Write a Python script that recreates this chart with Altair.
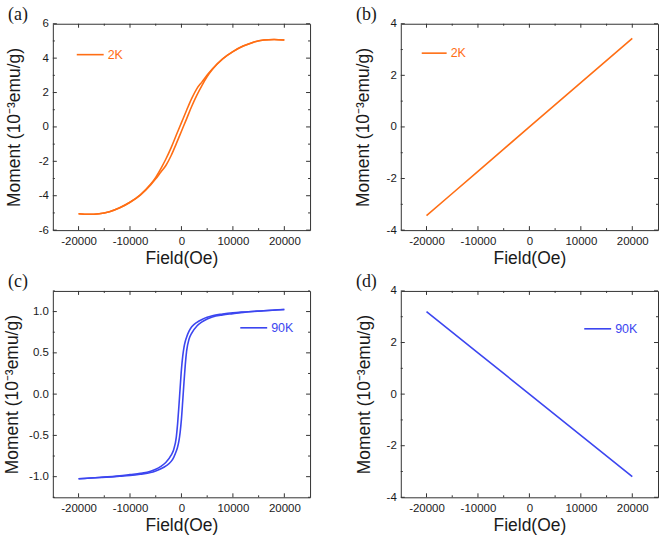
import altair as alt
import pandas as pd

ORANGE = "#FF6E14"
BLUE = "#3C46F0"
FRAME = "#333333"
TEXT = "#1a1a1a"
SANS = "Liberation Sans, Arial, sans-serif"
SERIF = "Liberation Serif, Times New Roman, serif"

panel_labels = ["(a)", "(b)", "(c)", "(d)"]
series_names = ["2K", "2K", "90K", "90K"]
x_title = "Field(Oe)"
y_title = "Moment (10\u207b\u00b3emu/g)"

x_major_ticks = [-20000, -10000, 0, 10000, 20000]
x_minor_ticks = [-15000, -5000, 5000, 15000]

# (a) 2K hysteresis loop
field_a = [-20000, -18000, -16000, -14000, -12000, -10000, -8000, -6000, -5000, -4000,
           -3000, -2000, -1000, 0, 1000, 2000, 3000, 4000, 5000, 6000, 8000, 10000,
           12000, 14000, 16000, 18000, 20000]
moment_a_down = [-5.05, -5.08, -5.05, -4.93, -4.70, -4.38, -3.95, -3.34, -2.93, -2.42,
                 -1.85, -1.20, -0.47, 0.25, 0.97, 1.66, 2.23, 2.62, 3.02, 3.37, 3.96, 4.38,
                 4.70, 4.93, 5.05, 5.08, 5.05]
moment_a_up = [-5.05, -5.08, -5.05, -4.93, -4.70, -4.38, -3.96, -3.37, -3.02, -2.62,
               -2.23, -1.66, -0.97, -0.25, 0.47, 1.20, 1.85, 2.42, 2.93, 3.34, 3.95, 4.38,
               4.70, 4.93, 5.05, 5.08, 5.05]

# (b) 2K straight line
field_b = [-20000, -10000, 0, 10000, 20000]
moment_b = [-3.44, -1.72, 0.0, 1.72, 3.43]

# (c) 90K hysteresis loop
field_c = [-20000, -16000, -12000, -10000, -8000, -6000, -5000, -4000, -3000, -2000,
           -1500, -1000, -750, -500, -250, 0, 250, 500, 750, 1000, 1500, 2000, 3000,
           4000, 5000, 6000, 8000, 10000, 12000, 16000, 20000]
moment_c_down = [-1.025, -1.01, -0.99, -0.975, -0.96, -0.935, -0.91, -0.875, -0.825, -0.74,
                 -0.67, -0.52, -0.36, -0.15, 0.08, 0.30, 0.46, 0.57, 0.64, 0.69, 0.765, 0.815,
                 0.87, 0.905, 0.93, 0.95, 0.97, 0.985, 0.995, 1.01, 1.025]
moment_c_up = [-1.025, -1.01, -0.995, -0.985, -0.97, -0.95, -0.93, -0.905, -0.87, -0.815,
               -0.765, -0.69, -0.64, -0.57, -0.46, -0.30, -0.08, 0.15, 0.36, 0.52, 0.67, 0.74,
               0.825, 0.875, 0.91, 0.935, 0.96, 0.975, 0.99, 1.01, 1.025]

# (d) 90K straight line
field_d = [-20000, -10000, 0, 10000, 20000]
moment_d = [3.2, 1.6, 0.0, -1.6, -3.2]

y_major_a = [-6, -4, -2, 0, 2, 4, 6]
y_minor_a = [-5, -3, -1, 1, 3, 5]
y_major_bd = [-4, -2, 0, 2, 4]
y_minor_bd = [-3, -1, 1, 3]
y_major_c = [-1.0, -0.5, 0.0, 0.5, 1.0]
y_minor_c = [-1.25, -0.75, -0.25, 0.25, 0.75, 1.25]

W, H = 258, 207
MAJOR, MINOR = 4, 2


def frame(fields, branches, series):
    rows = []
    for name, values in branches.items():
        for f, m in zip(fields, values):
            rows.append({"field": f, "moment": m, "branch": name, "series": series})
    return pd.DataFrame(rows)


def panel(df, label, series, color, y_domain, y_major, y_minor, y_fmt,
          legend_x, legend_y, legend_len, title_x):
    xs = alt.Scale(domain=[-25000, 25000], nice=False, zero=False)
    ys = alt.Scale(domain=y_domain, nice=False, zero=False)
    if y_fmt == "int":
        y_label = "'' + datum.value"
    else:
        y_label = "replace(format(datum.value, '.1f'), '\u2212', '-')"

    common = dict(domain=False, grid=False, ticks=False)
    x_bottom = alt.Axis(
        orient="bottom", values=x_major_ticks,
        labelExpr="'' + datum.value",
        labelPadding=5, labelFont=SANS, labelFontSize=11.5, labelColor=TEXT,
        labelFlush=False, labelOverlap=False,
        title=x_title, titleFont=SANS, titleFontSize=17.5, titleFontWeight="normal",
        titleColor=TEXT, titleY=28, titleBaseline="middle", **common)
    y_left = alt.Axis(
        orient="left", values=y_major,
        labelExpr=y_label,
        labelPadding=4.5, labelFont=SANS, labelFontSize=11.5, labelColor=TEXT,
        labelFlush=False, labelOverlap=False,
        title=y_title, titleFont=SANS, titleFontSize=17.5, titleFontWeight="normal",
        titleColor=TEXT, titleX=title_x, titleBaseline="middle", **common)

    line = alt.Chart(df).mark_line(strokeWidth=1.6, interpolate="monotone").encode(
        x=alt.X("field:Q", scale=xs, axis=x_bottom),
        y=alt.Y("moment:Q", scale=ys, axis=y_left),
        color=alt.Color("series:N", scale=alt.Scale(domain=[series], range=[color]),
                        legend=alt.Legend(orient="none", legendX=legend_x, legendY=legend_y,
                                          title=None, symbolType="stroke",
                                          symbolSize=legend_len ** 2, symbolStrokeWidth=1.6,
                                          labelColor=color, labelFont=SANS, labelFontSize=12.5,
                                          labelOffset=3, padding=0)),
        detail="branch:N",
    )

    # inward-pointing ticks on all four sides, placed through the panel's scales
    ticks = []
    for values, size in [(x_major_ticks, MAJOR), (x_minor_ticks, MINOR)]:
        tdf = pd.DataFrame({"t": values})
        for y0, y1 in [(H, H - size), (0, size)]:
            ticks.append(alt.Chart(tdf).mark_rule(color=FRAME, strokeWidth=1).encode(
                x=alt.X("t:Q", scale=xs, axis=None),
                y=alt.value(y0), y2=alt.value(y1)))
    for values, size in [(y_major, MAJOR), (y_minor, MINOR)]:
        tdf = pd.DataFrame({"t": values})
        for x0, x1 in [(0, size), (W, W - size)]:
            ticks.append(alt.Chart(tdf).mark_rule(color=FRAME, strokeWidth=1).encode(
                y=alt.Y("t:Q", scale=ys, axis=None),
                x=alt.value(x0), x2=alt.value(x1)))

    tag = alt.Chart(pd.DataFrame({"label": [label]})).mark_text(
        align="left", baseline="alphabetic", font=SERIF, fontSize=18, color=TEXT
    ).encode(x=alt.value(-45), y=alt.value(-4), text="label:N")
    return alt.layer(line, *ticks, tag).resolve_axis(
        x="independent", y="independent").properties(width=W, height=H)


df_a = frame(field_a, {"down": moment_a_down, "up": moment_a_up}, series_names[0])
df_b = frame(field_b, {"line": moment_b}, series_names[1])
df_c = frame(field_c, {"down": moment_c_down, "up": moment_c_up}, series_names[2])
df_d = frame(field_d, {"line": moment_d}, series_names[3])

pa = panel(df_a, panel_labels[0], series_names[0], ORANGE, [-6, 6], y_major_a, y_minor_a, "int",
           23, 16.5, 27, -38)
pb = panel(df_b, panel_labels[1], series_names[1], ORANGE, [-4, 4], y_major_bd, y_minor_bd, "int",
           20, 16, 25, -37)
pc = panel(df_c, panel_labels[2], series_names[2], BLUE, [-1.25, 1.25], y_major_c, y_minor_c, "f1",
           187, 22.5, 27, -40.5)
pd_ = panel(df_d, panel_labels[3], series_names[3], BLUE, [-4, 4], y_major_bd, y_minor_bd, "int",
            183, 23.5, 27, -36.5)

chart = alt.concat(pa, pb, pc, pd_, columns=2, spacing={"row": 61, "column": 91},
                   bounds="flush").resolve_scale(color="independent").properties(
    padding={"left": 2, "top": 4, "right": 2, "bottom": 2}, background="white"
).configure_view(stroke=FRAME, strokeWidth=1)

chart.save("out.html", embed_options={"renderer": "svg", "actions": False})
